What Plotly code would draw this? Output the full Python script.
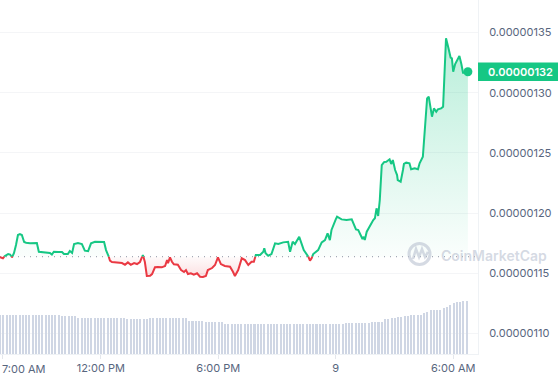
import numpy as np
import pandas as pd
import plotly.graph_objects as go

# ---------------- data ----------------
start_time = "2024-05-08 06:51"
range_minutes = 1465

price_minutes = [
    0, 9, 15, 25, 31, 37, 43, 49, 55, 61,
    67, 74, 80, 92, 107, 113, 119, 129, 141, 153,
    159, 165, 178, 190, 196, 208, 214, 221, 227, 239,
    251, 260, 270, 279, 291, 306, 319, 325, 331, 337,
    343, 355, 365, 374, 383, 392, 401, 411, 420, 429,
    438, 444, 450, 460, 466, 475, 484, 496, 506, 512,
    515, 521, 527, 533, 545, 555, 564, 570, 576, 585,
    594, 604, 613, 622, 631, 637, 650, 659, 668, 677,
    689, 699, 705, 714, 720, 730, 741, 751, 761, 771,
    778, 784, 797, 807, 810, 814, 822, 832, 843, 853,
    868, 883, 889, 897, 904, 917, 924, 931, 945, 950,
    955, 960, 975, 986, 996, 1004, 1011, 1016, 1029, 1033,
    1047, 1057, 1062, 1078, 1085, 1091, 1098, 1105, 1111, 1115,
    1118, 1124, 1134, 1144, 1149, 1154, 1159, 1164, 1170, 1177,
    1184, 1190, 1194, 1199, 1204, 1211, 1217, 1219, 1228, 1235,
    1238, 1245, 1255, 1260, 1271, 1281, 1286, 1296, 1301, 1307,
    1309, 1314, 1320, 1324, 1330, 1337, 1342, 1352, 1358, 1363,
    1367, 1374, 1381, 1385, 1389, 1395, 1400, 1408, 1414, 1419,
    1428, 1434,
]

# price in units of 1e-8
price_e8 = [
    116.33, 116.25, 116.44, 116.60, 116.56, 116.33, 116.69, 117.35, 118.18, 118.26,
    118.18, 117.60, 117.54, 117.49, 117.51, 117.51, 116.79, 116.77, 116.69, 116.69,
    116.56, 116.79, 116.77, 116.77, 116.60, 116.60, 116.85, 116.69, 117.43, 117.51,
    117.43, 116.88, 116.85, 117.49, 117.62, 117.62, 117.60, 116.93, 116.60, 116.05,
    115.94, 115.90, 115.91, 115.85, 115.71, 115.91, 115.71, 115.85, 115.77, 115.94,
    116.52, 115.94, 114.78, 114.80, 114.94, 115.50, 115.52, 115.50, 115.61, 116.10,
    115.85, 116.33, 115.96, 115.75, 115.71, 115.27, 115.11, 115.27, 114.94, 115.00,
    114.88, 115.00, 114.72, 114.69, 114.78, 115.27, 115.44, 115.69, 116.33, 115.77,
    115.61, 115.57, 115.55, 115.13, 114.78, 115.27, 116.25, 116.10, 115.69, 115.96,
    115.96, 116.52, 116.52, 116.79, 117.08, 116.66, 116.46, 116.60, 117.49, 117.43,
    117.57, 117.62, 116.79, 117.62, 117.43, 118.04, 117.49, 116.93, 116.38, 116.05,
    116.25, 116.60, 116.93, 117.57, 117.76, 118.32, 117.76, 118.60, 119.48, 119.70,
    119.48, 119.43, 119.43, 119.48, 119.01, 118.65, 118.60, 118.18, 117.85, 118.04,
    117.76, 118.46, 119.01, 119.43, 119.57, 120.40, 119.76, 121.09, 123.99, 124.24,
    124.27, 124.37, 124.47, 124.08, 124.41, 123.58, 123.16, 122.75, 122.61, 123.58,
    124.08, 124.19, 124.14, 123.64, 123.72, 123.64, 124.14, 124.68, 126.63, 129.39,
    129.53, 129.67, 128.84, 128.01, 128.70, 128.42, 128.62, 128.70, 128.84, 132.16,
    134.52, 133.75, 132.92, 132.86, 131.74, 132.38, 132.63, 133.05, 132.38, 131.66,
    131.66, 131.74,
]

baseline_e8 = 116.38

volume_interval_min = 10
volume_m = [
    3.90, 3.90, 3.90, 3.90, 3.90, 3.90, 3.90, 3.90, 3.90, 3.90,
    3.90, 3.90, 3.90, 3.90, 3.90, 3.90, 3.90, 3.90, 3.90, 3.83,
    3.83, 3.83, 3.83, 3.83, 3.57, 3.57, 3.57, 3.57, 3.57, 3.57,
    3.57, 3.57, 3.57, 3.57, 3.57, 3.57, 3.57, 3.57, 3.57, 3.47,
    3.47, 3.47, 3.47, 3.47, 3.47, 3.47, 3.57, 3.57, 3.57, 3.57,
    3.57, 3.57, 3.57, 3.57, 3.57, 3.57, 3.57, 3.57, 3.30, 3.30,
    3.30, 3.30, 3.30, 3.20, 3.20, 3.20, 3.20, 3.20, 3.20, 3.03,
    3.03, 3.03, 3.03, 3.03, 2.97, 2.97, 2.97, 2.97, 2.97, 2.97,
    2.97, 2.97, 2.97, 2.97, 2.97, 2.97, 2.97, 2.97, 2.97, 2.97,
    2.97, 2.97, 2.97, 2.97, 2.97, 2.97, 2.97, 2.97, 2.97, 2.97,
    2.97, 2.97, 2.97, 3.03, 3.03, 3.03, 3.10, 3.10, 3.10, 3.10,
    3.10, 3.10, 3.10, 3.10, 3.17, 3.17, 3.17, 3.23, 3.47, 3.47,
    3.57, 3.57, 3.67, 3.67, 3.80, 3.80, 3.90, 3.90, 3.90, 3.90,
    4.07, 4.23, 4.40, 4.40, 4.40, 4.40, 4.57, 4.73, 4.90, 5.07,
    5.17, 5.17, 5.30, 5.30,
]
volume_axis_max = 35.4

ytick_vals_e8 = [110, 115, 120, 125, 130, 135]
ytick_text = ["0.00000110", "0.00000115", "0.00000120",
              "0.00000125", "0.00000130", "0.00000135"]
y_range_e8 = [108.30, 137.70]

xtick_times = ["2024-05-08 07:00", "2024-05-08 12:00", "2024-05-08 18:00",
               "2024-05-09 00:00", "2024-05-09 06:00"]
xtick_text = ["7:00 AM", "12:00 PM", "6:00 PM", "9", "6:00 AM"]

# ---------------- styles ----------------
GREEN = "#16c784"
RED = "#ea3943"
LABEL = "#58667e"
FONT = "Inter"

# ---------------- derived ----------------
t0 = pd.Timestamp(start_time)
t = np.array(price_minutes, dtype=float)
p = np.array(price_e8) * 1e-8
b = baseline_e8 * 1e-8

# insert baseline crossings so the line can switch colour exactly there
tt, pp = [t[0]], [p[0]]
for i in range(1, len(t)):
    a0, a1 = p[i - 1] - b, p[i] - b
    if a0 * a1 < 0:
        f = a0 / (a0 - a1)
        tt.append(t[i - 1] + f * (t[i] - t[i - 1]))
        pp.append(b)
    tt.append(t[i])
    pp.append(p[i])
tt = np.array(tt)
pp = np.array(pp)
x = t0 + pd.to_timedelta(tt, unit="m")
up = np.where(pp >= b, pp, np.nan)
dn = np.where(pp <= b, pp, np.nan)

x_end = t0 + pd.Timedelta(minutes=range_minutes)
vol_x = t0 + pd.to_timedelta(np.arange(len(volume_m)) * volume_interval_min, unit="m")

fig = go.Figure()

# volume bars
fig.add_trace(go.Bar(
    x=vol_x, y=volume_m, yaxis="y2",
    marker=dict(color="#cfd6e4", line=dict(width=0)),
    width=volume_interval_min * 60000 * 0.62,
    hoverinfo="skip", showlegend=False,
))

# green area (above baseline)
fig.add_trace(go.Scatter(x=x, y=np.full(len(x), b), mode="lines",
                         line=dict(width=0), hoverinfo="skip", showlegend=False))
fig.add_trace(go.Scatter(
    x=x, y=np.maximum(pp, b), mode="lines", line=dict(width=0),
    fill="tonexty",
    fillgradient=dict(type="vertical",
                      colorscale=[[0, "rgba(22,199,132,0.02)"], [1, "rgba(22,199,132,0.30)"]],
                      start=b, stop=p.max()),
    hoverinfo="skip", showlegend=False))

# red area (below baseline)
fig.add_trace(go.Scatter(x=x, y=np.full(len(x), b), mode="lines",
                         line=dict(width=0), hoverinfo="skip", showlegend=False))
fig.add_trace(go.Scatter(
    x=x, y=np.minimum(pp, b), mode="lines", line=dict(width=0),
    fill="tonexty",
    fillgradient=dict(type="vertical",
                      colorscale=[[0, "rgba(234,57,67,0.16)"], [1, "rgba(234,57,67,0.02)"]],
                      start=p.min(), stop=b),
    hoverinfo="skip", showlegend=False))

# dotted baseline
fig.add_trace(go.Scatter(x=[t0, x_end], y=[b, b], mode="lines",
                         line=dict(color="#8d94a3", width=1, dash="1px,5px"),
                         hoverinfo="skip", showlegend=False))

# price lines
fig.add_trace(go.Scatter(x=x, y=up, mode="lines", connectgaps=False,
                         line=dict(color=GREEN, width=2), showlegend=False))
fig.add_trace(go.Scatter(x=x, y=dn, mode="lines", connectgaps=False,
                         line=dict(color=RED, width=2), showlegend=False))

# last point marker
fig.add_trace(go.Scatter(x=[x[-1]], y=[pp[-1]], mode="markers",
                         marker=dict(color=GREEN, size=9), showlegend=False))

# price tag
half_h = (y_range_e8[1] - y_range_e8[0]) * 1e-8 * 9.2 / 354
fig.add_shape(type="rect", xref="paper", yref="y", x0=1, x1=1 + 80 / 478,
              y0=pp[-1] - half_h, y1=pp[-1] + half_h,
              fillcolor=GREEN, line=dict(width=0), layer="above")
fig.add_annotation(xref="paper", yref="y", x=1, y=pp[-1], xanchor="left", yanchor="middle",
                   xshift=8, text=f"{pp[-1]:.8f}", showarrow=False,
                   font=dict(family=FONT, size=11, color="white", weight=600))

# first x label kept inside the frame
fig.add_annotation(xref="paper", yref="paper", x=0, y=0, xanchor="left", yanchor="top",
                   yshift=-6, text=xtick_text[0], showarrow=False,
                   font=dict(family=FONT, size=11, color=LABEL))

# watermark
WM = "rgba(185,193,209,0.6)"
fig.add_shape(type="circle", xref="paper", yref="paper",
              x0=409 / 478, x1=430 / 478, y0=(354 - 264.5) / 354, y1=(354 - 243.5) / 354,
              line=dict(color=WM, width=3), layer="above")
fig.add_shape(type="path", xref="paper", yref="paper",
              path="M {:.4f} {:.4f} L {:.4f} {:.4f} L {:.4f} {:.4f} L {:.4f} {:.4f} L {:.4f} {:.4f} L {:.4f} {:.4f}".format(
                  413 / 478, (354 - 259) / 354, 416 / 478, (354 - 249) / 354,
                  419 / 478, (354 - 257) / 354, 422 / 478, (354 - 249) / 354,
                  425 / 478, (354 - 257) / 354, 428 / 478, (354 - 252) / 354),
              line=dict(color=WM, width=2.5), layer="above")
fig.add_annotation(xref="paper", yref="paper", x=439 / 478, y=(354 - 255) / 354,
                   xanchor="left", yanchor="middle", text="CoinMarketCap", showarrow=False,
                   font=dict(family=FONT, size=14, color=WM, weight=600))

fig.update_layout(
    width=558, height=380,
    margin=dict(l=0, r=80, t=0, b=26),
    paper_bgcolor="white", plot_bgcolor="white",
    font=dict(family=FONT, size=11, color=LABEL),
    bargap=0,
    xaxis=dict(
        type="date", range=[t0, x_end],
        tickvals=[pd.Timestamp(v) for v in xtick_times],
        ticktext=[""] + xtick_text[1:],
        ticks="outside", ticklen=4, tickcolor="#e4e7ec",
        showline=True, linecolor="#eff2f5", linewidth=1,
        showgrid=False, zeroline=False,
        tickfont=dict(family=FONT, size=11, color=LABEL),
    ),
    yaxis=dict(
        side="right", range=[v * 1e-8 for v in y_range_e8],
        tickvals=[v * 1e-8 for v in ytick_vals_e8], ticktext=ytick_text,
        showgrid=True, gridcolor="#f4f5f7", gridwidth=1,
        showline=True, linecolor="#eff2f5", linewidth=1,
        zeroline=False, ticks="", ticklabelstandoff=8,
        tickfont=dict(family=FONT, size=11, color=LABEL),
    ),
    yaxis2=dict(overlaying="y", range=[0, volume_axis_max], visible=False),
    hovermode=False,
)

fig.write_html("out.html", config={"displayModeBar": False},
               post_script="document.body.style.margin='0';")
